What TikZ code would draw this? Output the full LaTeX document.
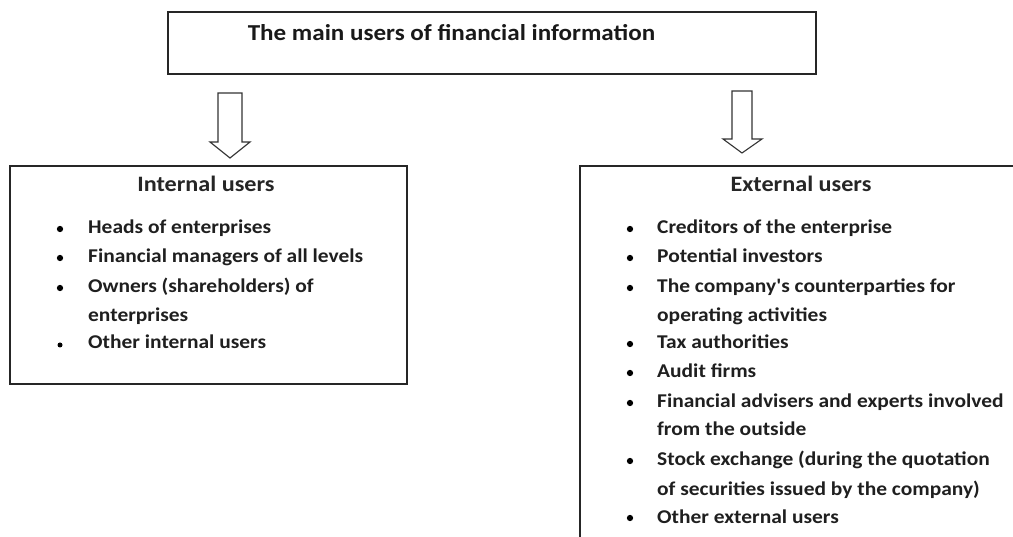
\documentclass[tikz,border=0pt]{standalone}
\usepackage{fontspec}
\setmainfont{Carlito}[FakeStretch=1.1, Ligatures=TeXOff]
\begin{document}
\begin{tikzpicture}[x=1pt,y=-1pt,
  boxframe/.style={draw=black!85, line width=1.8pt, inner sep=0pt},
  titletext/.style={font=\bfseries\fontsize{22.8}{26}\selectfont, inner sep=0pt, anchor=base, text=black!90},
  headtext/.style={font=\bfseries\fontsize{22}{26}\selectfont, inner sep=0pt, anchor=base, text=black!85},
  itemtext/.style={font=\bfseries\fontsize{19.5}{23}\selectfont, inner sep=0pt, anchor=base west, text=black!88},
  bul/.style={circle, fill=black, inner sep=0pt, minimum size=6.3pt},
  blockarrow/.style={draw=black!80, line width=1.1pt, fill=white, line join=miter}]
\useasboundingbox (0,0) rectangle (1013,537);
\clip (0,0) rectangle (1013,537);
\fill[white] (0,0) rectangle (1013,537);

% main box
\node[boxframe, minimum width=648pt, minimum height=62pt] (main) at (492,43) {};
\node[titletext] (title) at (451.5,41) {The main users of financial information};

% internal box
\node[boxframe, minimum width=397pt, minimum height=218pt] (internal) at (208.5,275) {};
% external box (runs past the right and bottom edges)
\node[boxframe, minimum width=442pt, minimum height=390pt] (external) at (801,361) {};

% block arrows
\coordinate (la) at (230,93);
\coordinate (ra) at (742,91);
\draw[blockarrow] (la) ++(-12,0) -- ++(0,49) -- ++(-8,0) -- (230,158) -- (250,142) -- ++(-8,0) -- ++(0,-49) -- cycle;
\draw[blockarrow] (ra) ++(-10,0) -- ++(0,48) -- ++(-9,0) -- (742,153) -- (762,139) -- ++(-10,0) -- ++(0,-48) -- cycle;

% headers
\node[headtext] (ih) at (206,192) {Internal users};
\node[headtext] (eh) at (801,192) {External users};

% internal items
\node[bul] (ib1) at (60,229) {};
\node[itemtext] (i1) at (88,234) {Heads of enterprises};
\node[bul] (ib2) at (60,258) {};
\node[itemtext] (i2) at (88,263) {Financial managers of all levels};
\node[bul] (ib3) at (60,288) {};
\node[itemtext] (i3) at (88,293) {Owners (shareholders) of};
\node[itemtext] (i3b) at (88,322) {enterprises};
\node[bul, minimum size=5pt] (ib4) at (60,345) {};
\node[itemtext] (i4) at (88,349) {Other internal users};

% external items
\node[bul] (eb1) at (630,229) {};
\node[itemtext] (e1) at (657,234) {Creditors of the enterprise};
\node[bul] (eb2) at (630,258) {};
\node[itemtext] (e2) at (657,263) {Potential investors};
\node[bul] (eb3) at (630,288) {};
\node[itemtext] (e3) at (657,293) {The company's counterparties for};
\node[itemtext] (e3b) at (657,322) {operating activities};
\node[bul] (eb4) at (630,344) {};
\node[itemtext] (e4) at (657,349) {Tax authorities};
\node[bul] (eb5) at (630,373) {};
\node[itemtext] (e5) at (657,378) {Audit firms};
\node[bul] (eb6) at (630,403) {};
\node[itemtext] (e6) at (657,408) {Financial advisers and experts involved};
\node[itemtext] (e6b) at (657,436) {from the outside};
\node[bul] (eb7) at (630,461) {};
\node[itemtext] (e7) at (657,466) {Stock exchange (during the quotation};
\node[itemtext] (e7b) at (657,495) {of securities issued by the company)};
\node[bul] (eb8) at (630,518) {};
\node[itemtext] (e8) at (657,523) {Other external users};
\end{tikzpicture}
\end{document}
